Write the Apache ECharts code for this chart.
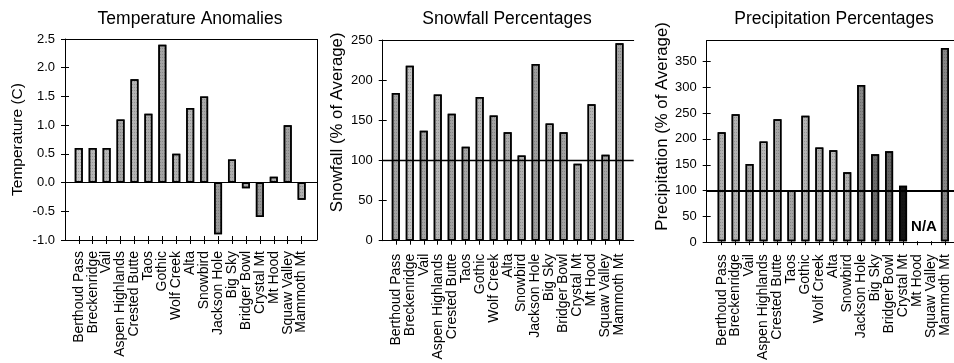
<!DOCTYPE html>
<html>
<head>
<meta charset="utf-8">
<script src="https://cdn.jsdelivr.net/npm/echarts@6/dist/echarts.min.js"></script>
<style>
  html, body { margin: 0; padding: 0; background: #fff; }
  #chart { width: 954px; height: 363px; }
</style>
</head>
<body>
<div id="chart"></div>
<script>
// Ski areas, in the order they appear along every x axis
const resorts = ['Berthoud Pass', 'Breckenridge', 'Vail', 'Aspen Highlands', 'Crested Butte', 'Taos', 'Gothic',
  'Wolf Creek', 'Alta', 'Snowbird', 'Jackson Hole', 'Big Sky', 'Bridger Bowl', 'Crystal Mt', 'Mt Hood',
  'Squaw Valley', 'Mammoth Mt'];

// Season values per ski area
const temperatureAnomaly = [0.6, 0.6, 0.6, 1.1, 1.8, 1.2, 2.4, 0.5, 1.3, 1.5, -0.9, 0.4, -0.1, -0.6, 0.1, 1.0, -0.3];
const snowfallPercent = [184, 218, 137, 182, 158, 117, 179, 156, 135, 106, 220, 146, 135, 96, 170, 107, 246];
const precipPercent = [212, 247, 150, 194, 237, 99, 244, 182, 177, 134, 304, 169, 175, 108, null, null, 376];

// Value axis ranges (ticks every interval, counted from min)
const temperatureAxis = { min: -1.0, max: 2.5, interval: 0.5 };
const snowfallAxis = { min: 0, max: 250, interval: 50 };
const precipAxis = { min: 0, max: 390, interval: 50 };

// Reference levels: no anomaly / 100 % of average
const temperatureRef = 0;
const snowfallRef = 100;
const precipRef = 100;

// Ski areas without precipitation records
const missingLabel = 'N/A';
const missingResorts = ['Mt Hood', 'Squaw Valley'];

// Fill shades of the individual bars
const tempShades = ['#c6c6c6', '#b6b6b6', '#b6b6b6', '#a4a4a4', '#b4b4b4', '#aaaaaa', '#a4a4a4', '#b0b0b0', '#b6b6b6',
  '#aaaaaa', '#989898', '#aeaeae', '#a8a8a8', '#969696', '#aeaeae', '#a0a0a0', '#b0b0b0'];
const snowShades = ['#a2a2a2', '#c0c0c0', '#a4a4a4', '#b4b4b4', '#a2a2a2', '#a4a4a4', '#b8b8b8', '#a2a2a2', '#aaaaaa',
  '#b0b0b0', '#9c9c9c', '#aaaaaa', '#a2a2a2', '#a4a4a4', '#b4b4b4', '#a4a4a4', '#a2a2a2'];
const precipShades = ['#b0b0b0', '#b2b2b2', '#a4a4a4', '#b8b8b8', '#a4a4a4', '#a4a4a4', '#b4b4b4', '#acacac', '#b8b8b8',
  '#b0b0b0', '#888888', '#6c6c6c', '#646464', '#151515', '#999999', '#999999', '#868686'];

const FONT = "'Liberation Sans', Arial, Helvetica, sans-serif";
const black = '#000';

const panels = [
  {
    title: 'Temperature Anomalies', titleX: 185, yName: 'Temperature (C)', nameSize: 15.5, nameGap: 39, namePad: 0,
    values: temperatureAnomaly, shades: tempShades, axis: temperatureAxis, digits: 1, ref: temperatureRef, refWidth: 1.2,
    outer: { left: 65, top: 39, width: 252, height: 201 }, inner: { left: 71.8, width: 236.8 },
    rightEdge: true, crossTicks: true, labelMargin: 11
  },
  {
    title: 'Snowfall Percentages', titleX: 502, yName: 'Snowfall (% of Average)', nameSize: 16.8, nameGap: 37, namePad: 36,
    values: snowfallPercent, shades: snowShades, axis: snowfallAxis, digits: 0, ref: snowfallRef, refWidth: 1.4,
    outer: { left: 382.7, top: 40, width: 251, height: 200.7 }, inner: { left: 388.8, width: 237.7 },
    rightEdge: false, crossTicks: false, labelMargin: 13
  },
  {
    title: 'Precipitation Percentages', titleX: 829, yName: 'Precipitation (% of Average)', nameSize: 16.8, nameGap: 34, namePad: 30,
    values: precipPercent, shades: precipShades, axis: precipAxis, digits: 0, ref: precipRef, refWidth: 2,
    outer: { left: 706.7, top: 40.7, width: 262, height: 201.6 }, inner: { left: 714.7, width: 237.2 },
    rightEdge: false, crossTicks: false, labelMargin: 13
  }
];

// horizontal frame edge (top or bottom) of a panel
const frameEdgeAxis = (gridIndex, position) => ({
  type: 'value', gridIndex, position, min: 0, max: 1,
  axisLine: { show: true, onZero: false, lineStyle: { color: black, width: 1 } },
  axisTick: { show: false }, axisLabel: { show: false }, splitLine: { show: false }
});

const option = { animation: false, backgroundColor: '#fff', title: [], grid: [], xAxis: [], yAxis: [], series: [] };
const barAxisRefs = [];

panels.forEach((p) => {
  const gOuter = option.grid.length;
  const gInner = gOuter + 1;
  option.grid.push({ left: p.outer.left, top: p.outer.top, width: p.outer.width, height: p.outer.height });
  option.grid.push({ left: p.inner.left, top: p.outer.top, width: p.inner.width, height: p.outer.height });

  option.title.push({
    text: p.title, left: p.titleX, top: 5, textAlign: 'center',
    textStyle: { fontFamily: FONT, fontSize: 17.5, fontWeight: 'normal', color: black }
  });

  const xTop = option.xAxis.length;
  option.xAxis.push(frameEdgeAxis(gOuter, 'top'));
  option.xAxis.push(frameEdgeAxis(gOuter, 'bottom'));

  // category axis carrying the bars and the rotated resort names
  const xCat = option.xAxis.length;
  option.xAxis.push({
    type: 'category', gridIndex: gInner, position: 'bottom', data: resorts, boundaryGap: true,
    axisLine: { show: false, onZero: false },
    axisTick: { show: true, alignWithLabel: true, interval: 0, length: 4, lineStyle: { color: black, width: 1 } },
    axisLabel: { rotate: 90, interval: 0, margin: p.labelMargin, fontFamily: FONT, fontSize: 14, color: black },
    splitLine: { show: false }
  });
  if (p.crossTicks) {
    // upward half of the crossing category ticks
    option.xAxis.push({
      type: 'category', gridIndex: gInner, position: 'bottom', data: resorts, boundaryGap: true,
      axisLine: { show: false, onZero: false },
      axisTick: { show: true, inside: true, alignWithLabel: true, interval: 0, length: 4, lineStyle: { color: black, width: 1 } },
      axisLabel: { show: false }, splitLine: { show: false }
    });
  }

  const a = p.axis;
  const yMain = option.yAxis.length;
  option.yAxis.push({
    type: 'value', gridIndex: gOuter, position: 'left', min: a.min, max: a.max, interval: a.interval,
    axisLine: { show: true, onZero: false, lineStyle: { color: black, width: 1 } },
    axisTick: { show: true, length: 4, lineStyle: { color: black, width: 1 } },
    axisLabel: {
      margin: 10, fontFamily: FONT, fontSize: 13, color: black, showMaxLabel: a.max % a.interval === 0,
      formatter: (v) => Number(v).toFixed(p.digits)
    },
    splitLine: { show: false },
    name: p.yName, nameLocation: 'middle', nameGap: p.nameGap,
    nameTextStyle: { fontFamily: FONT, fontSize: p.nameSize, color: black, padding: [0, 0, 0, p.namePad] }
  });
  // inward half of the crossing value ticks
  option.yAxis.push({
    type: 'value', gridIndex: gOuter, position: 'left', min: a.min, max: a.max, interval: a.interval,
    axisLine: { show: false, onZero: false },
    axisTick: { show: true, inside: true, length: 4, lineStyle: { color: black, width: 1 } },
    axisLabel: { show: false }, splitLine: { show: false }
  });
  const yBar = option.yAxis.length;
  option.yAxis.push({ type: 'value', gridIndex: gInner, min: a.min, max: a.max, show: false });

  option.series.push({
    type: 'bar', xAxisIndex: xCat, yAxisIndex: yBar, barWidth: 8,
    data: p.values.map((v, i) => ({ value: v, itemStyle: { color: p.shades[i] } })),
    itemStyle: {
      borderColor: black, borderWidth: 1.5,
      decal: { symbol: 'rect', symbolSize: 1, dashArrayX: [1, 1], dashArrayY: [1, 2], color: 'rgba(0,0,0,0.18)' }
    },
    silent: true
  });

  // reference level across the whole frame (and the closing right edge where the frame has one)
  const lines = [{ yAxis: p.ref, lineStyle: { width: p.refWidth } }];
  if (p.rightEdge) lines.push({ xAxis: 1, lineStyle: { width: 1 } });
  option.series.push({
    type: 'line', xAxisIndex: xTop, yAxisIndex: yMain, data: [], silent: true,
    markLine: {
      silent: true, symbol: ['none', 'none'], label: { show: false },
      lineStyle: { color: black, type: 'solid' },
      data: lines
    }
  });
  barAxisRefs.push({ xAxisIndex: xCat, yAxisIndex: yBar });
});

const chart = echarts.init(document.getElementById('chart'), null, { renderer: 'canvas' });
chart.setOption(option);

// "N/A" marker centred between the ski areas that have no precipitation data
const pr = barAxisRefs[2];
const pA = chart.convertToPixel(pr, [missingResorts[0], 28]);
const pB = chart.convertToPixel(pr, [missingResorts[1], 28]);
chart.setOption({
  graphic: [{
    type: 'text', x: (pA[0] + pB[0]) / 2, y: pA[1], silent: true,
    style: { text: missingLabel, fontFamily: FONT, fontSize: 15, fontWeight: 'bold', fill: black, align: 'center', verticalAlign: 'middle' }
  }]
});
</script>
</body>
</html>
